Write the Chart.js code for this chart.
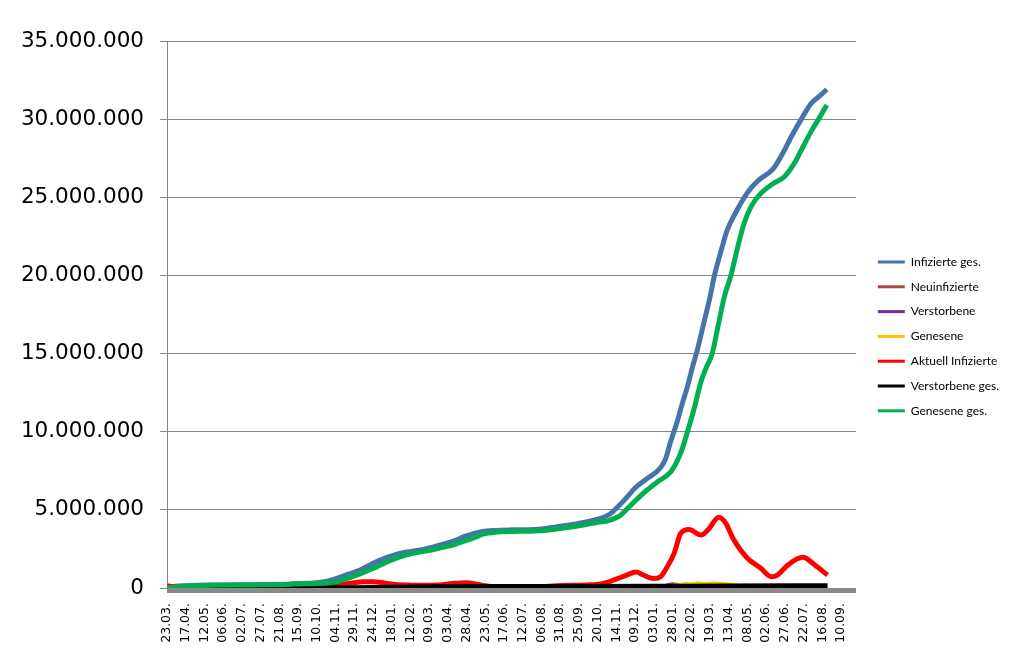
<!DOCTYPE html>
<html>
<head>
<meta charset="utf-8">
<script src="https://cdn.jsdelivr.net/npm/chart.js@4.4.0/dist/chart.umd.min.js"></script>
<style>
  html, body { margin: 0; padding: 0; background: #fff; }
  #wrap { width: 1021px; height: 661px; }
</style>
</head>
<body>
<div id="wrap"><canvas id="chart"></canvas></div>
<script>
// x-axis labels, one every 25 days starting 23.03.2020
const tickLabels = ["23.03.", "17.04.", "12.05.", "06.06.", "02.07.", "27.07.", "21.08.", "15.09.", "10.10.",
  "04.11.", "29.11.", "24.12.", "18.01.", "12.02.", "09.03.", "03.04.", "28.04.", "23.05.", "17.06.",
  "12.07.", "06.08.", "31.08.", "25.09.", "20.10.", "14.11.", "09.12.", "03.01.", "28.01.", "22.02.",
  "19.03.", "13.04.", "08.05.", "02.06.", "27.06.", "22.07.", "16.08.", "10.09."];

const seriesNames = ["Infizierte ges.", "Neuinfizierte", "Verstorbene", "Genesene",
  "Aktuell Infizierte", "Verstorbene ges.", "Genesene ges."];

// values in millions, days counted from 23.03.2020
const infGesDays = [0, 15, 40, 60, 100, 130, 160, 170, 190, 200, 215, 226, 240, 255, 270, 280, 295, 306, 320, 340,
  355, 370, 385, 395, 405, 420, 435, 460, 490, 507, 530, 556, 575, 592, 600, 614, 625, 641, 659, 666, 672, 681,
  688, 695, 702, 708, 718, 725, 731, 740, 748, 758, 771, 780, 790, 809, 822, 835, 847, 860, 872, 881];
const infGes = [0.03, 0.13, 0.17, 0.19, 0.2, 0.21, 0.24, 0.27, 0.3, 0.33, 0.45, 0.6, 0.85, 1.1, 1.45, 1.7, 1.98, 2.15,
  2.3, 2.45, 2.62, 2.82, 3.05, 3.25, 3.42, 3.6, 3.68, 3.72, 3.74, 3.82, 3.98, 4.2, 4.4, 4.75, 5.1, 5.8, 6.4, 7.0,
  7.7, 8.3, 9.3, 10.6, 11.8, 12.9, 14.2, 15.2, 17.2, 18.6, 20.0, 21.6, 22.9, 23.9, 25.0, 25.6, 26.1, 26.8, 27.8,
  29.0, 30.0, 31.0, 31.5, 31.9];

const neuDays = [0, 200, 260, 300, 400, 450, 560, 610, 640, 660, 668, 675, 682, 690, 700, 708, 715, 725, 740, 760,
  800, 844, 860, 881];
const neuinfizierte = [0.004, 0.005, 0.025, 0.015, 0.02, 0.005, 0.01, 0.06, 0.04, 0.08, 0.22, 0.28, 0.25, 0.22, 0.2,
  0.32, 0.24, 0.2, 0.15, 0.1, 0.05, 0.15, 0.1, 0.05];

const totDays = [0, 280, 300, 700, 881];
const verstorbene = [0.0001, 0.0009, 0.001, 0.0003, 0.0001];

const genDays = [0, 200, 270, 600, 640, 670, 685, 692, 700, 710, 720, 730, 740, 750, 758, 765, 772, 780, 800, 830,
  850, 881];
const genesene = [0, 0.005, 0.02, 0.04, 0.03, 0.12, 0.24, 0.3, 0.28, 0.33, 0.3, 0.34, 0.3, 0.28, 0.22, 0.18, 0.22,
  0.12, 0.09, 0.08, 0.12, 0.1];

const aktDays = [0, 10, 30, 60, 150, 200, 215, 230, 245, 262, 275, 290, 305, 325, 345, 365, 385, 400, 410, 425, 440,
  460, 500, 520, 560, 580, 596, 614, 626, 636, 650, 659, 668, 677, 686, 697, 713, 722, 737, 746, 757, 775, 793,
  807, 815, 829, 849, 865, 882];
const aktuell = [0.15, 0.06, 0.03, 0.01, 0.01, 0.03, 0.1, 0.2, 0.3, 0.4, 0.4, 0.32, 0.22, 0.18, 0.17, 0.2, 0.3, 0.33,
  0.28, 0.14, 0.06, 0.03, 0.08, 0.15, 0.2, 0.26, 0.5, 0.83, 1.02, 0.83, 0.6, 0.72, 1.36, 2.2, 3.5, 3.75, 3.39,
  3.7, 4.52, 4.15, 3.07, 1.9, 1.26, 0.72, 0.83, 1.47, 1.96, 1.47, 0.83];

const totGesDays = [0, 100, 200, 250, 300, 350, 450, 550, 650, 750, 882];
const verstorbeneGes = [0, 0.009, 0.01, 0.02, 0.05, 0.075, 0.09, 0.095, 0.11, 0.13, 0.145];

const genGesDays = [0, 20, 40, 60, 100, 130, 160, 170, 200, 215, 226, 240, 255, 270, 280, 295, 306, 320, 340, 355,
  370, 385, 400, 412, 422, 440, 460, 490, 507, 530, 556, 575, 592, 604, 614, 628, 641, 655, 672, 681, 688, 695,
  704, 713, 720, 728, 736, 744, 753, 762, 771, 781, 793, 810, 824, 838, 850, 860, 870, 881];
const genGes = [0.01, 0.08, 0.14, 0.17, 0.19, 0.2, 0.22, 0.25, 0.28, 0.32, 0.4, 0.6, 0.85, 1.15, 1.35, 1.7, 1.9,
  2.12, 2.32, 2.45, 2.62, 2.8, 3.05, 3.25, 3.45, 3.58, 3.62, 3.65, 3.7, 3.83, 4.03, 4.2, 4.35, 4.6, 5.05, 5.7,
  6.27, 6.8, 7.4, 8.1, 8.9, 10.0, 11.5, 13.2, 14.1, 15.0, 16.8, 18.6, 20.0, 21.8, 23.4, 24.5, 25.25, 25.9, 26.3,
  27.2, 28.3, 29.2, 30.0, 30.9];

const seriesDays = [infGesDays, neuDays, totDays, genDays, aktDays, totGesDays, genGesDays];
const seriesValues = [infGes, neuinfizierte, verstorbene, genesene, aktuell, verstorbeneGes, genGes];
const colors = ["#4674AA", "#AA4643", "#7030A0", "#FFC000", "#FF0000", "#000000", "#00B050"];
const widths = [5, 2.5, 2.5, 2.5, 5, 5, 5];

function fmt(v) {
  return String(v).replace(/\B(?=(\d{3})+(?!\d))/g, ".");
}

const datasets = seriesNames.map((name, i) => ({
  label: name,
  data: seriesDays[i].map((d, k) => ({ x: d, y: seriesValues[i][k] * 1e6 })),
  borderColor: colors[i],
  backgroundColor: colors[i],
  borderWidth: widths[i],
  pointRadius: 0,
  cubicInterpolationMode: "monotone",
  // excel draws later series on top
  order: seriesNames.length - 1 - i,
}));

const floorBand = {
  id: "floorBand",
  afterDatasetsDraw(chart) {
    const { ctx, chartArea } = chart;
    ctx.save();
    ctx.fillStyle = "#8a8a8a";
    ctx.fillRect(chartArea.left, chartArea.bottom, chartArea.right - chartArea.left, 5);
    ctx.restore();
  },
};

new Chart(document.getElementById("chart"), {
  type: "line",
  data: { datasets },
  plugins: [floorBand],
  options: {
    responsive: true,
    maintainAspectRatio: false,
    animation: false,
    layout: { padding: { top: 41, right: 12, bottom: 0, left: 0 } },
    plugins: {
      tooltip: { enabled: false },
      legend: {
        position: "right",
        align: "center",
        fullSize: false,
        title: { display: true, text: "", font: { size: 12, lineHeight: 1.2 }, padding: { top: 14.7, bottom: 14.7 } },
        labels: {
          boxWidth: 27,
          boxHeight: 3,
          padding: 12.8,
          color: "#000",
          font: { family: "Lato", size: 12 },
          sort: (a, b) => a.datasetIndex - b.datasetIndex,
          generateLabels(chart) {
            return Chart.defaults.plugins.legend.labels.generateLabels(chart).map((item) => {
              item.lineWidth = 0;
              item.fillStyle = colors[item.datasetIndex];
              return item;
            });
          },
        },
      },
    },
    scales: {
      x: {
        type: "linear",
        min: 0,
        max: 920,
        grid: { display: false, drawTicks: false },
        border: { display: false },
        afterBuildTicks(scale) {
          scale.ticks = tickLabels.map((_, i) => ({ value: i * 25 }));
        },
        afterFit(scale) { scale.height = 73; },
        ticks: {
          autoSkip: false,
          minRotation: 90,
          maxRotation: 90,
          padding: 15,
          color: "#000",
          font: { family: "DejaVu Sans", size: 12.5 },
          callback: (v) => tickLabels[Math.round(v / 25)],
        },
      },
      y: {
        min: 0,
        max: 35000000,
        grid: { color: "#868686", tickLength: 7, lineWidth: 1 },
        border: { display: true, color: "#868686" },
        afterFit(scale) { scale.width = 167; },
        ticks: {
          stepSize: 5000000,
          padding: 16,
          color: "#000",
          font: { family: "DejaVu Sans", size: 21.5 },
          callback: (v) => fmt(v),
        },
      },
      gap: {
        position: "right",
        grid: { display: false, drawTicks: false },
        border: { display: false },
        ticks: { display: false },
        afterFit(scale) { scale.width = 9; },
      },
    },
  },
});
</script>
</body>
</html>
